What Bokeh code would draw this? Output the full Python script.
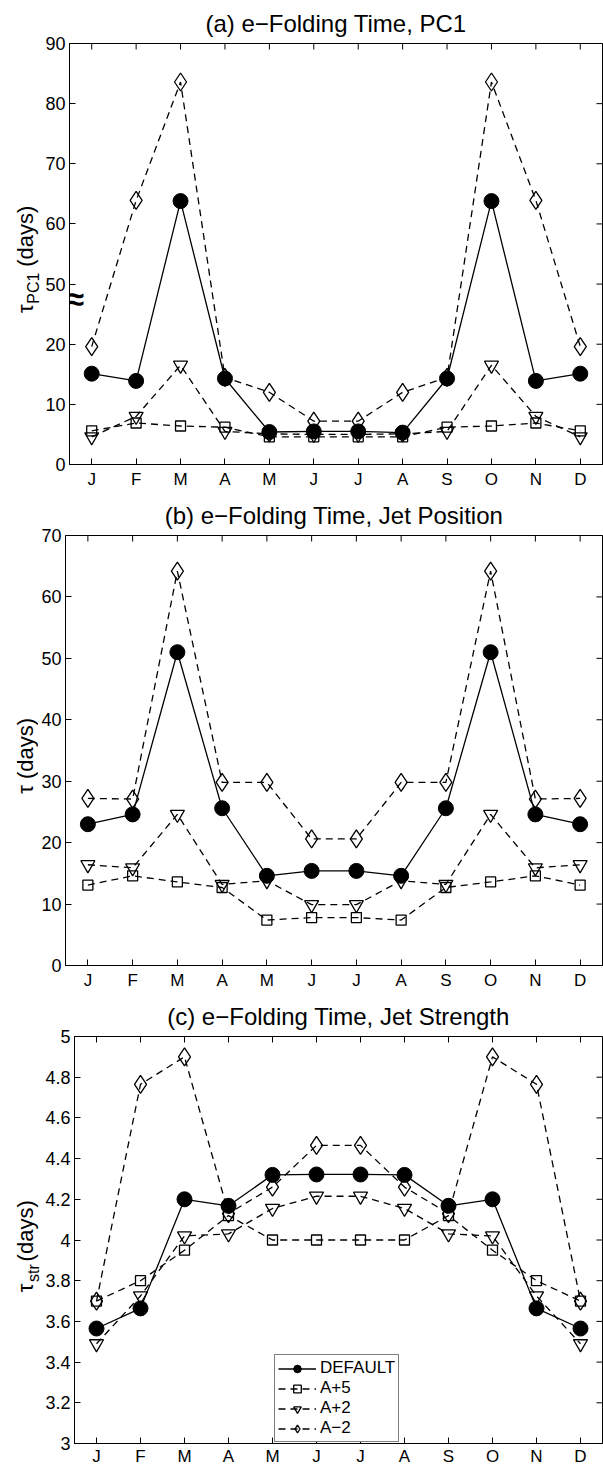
import math
from bokeh.plotting import figure
from bokeh.models import FixedTicker, Legend, LegendItem, Range1d
from bokeh.core.properties import value
from bokeh.layouts import column, row
from bokeh.embed import file_html
from bokeh.resources import INLINE

months = ["J", "F", "M", "A", "M", "J", "J", "A", "S", "O", "N", "D"]
month_idx = list(range(1, 13))
series_names = ["DEFAULT", "A+5", "A+2", "A\u22122"]

# (a) PC1 e-folding time (days)
pc1_default = [15.1, 13.9, 63.8, 14.3, 5.4, 5.5, 5.5, 5.3, 14.3, 63.8, 13.9, 15.1]
pc1_ap5 = [5.6, 6.9, 6.4, 6.2, 4.6, 4.6, 4.6, 4.6, 6.2, 6.4, 6.9, 5.6]
pc1_ap2 = [4.6, 8.0, 16.5, 5.5, 5.1, 5.0, 5.0, 5.1, 5.5, 16.5, 8.0, 4.6]
pc1_am2 = [19.6, 63.9, 83.6, 14.5, 12.0, 7.2, 7.2, 12.0, 14.5, 83.6, 63.9, 19.6]
pc1_tick_values = [0, 10, 20, 50, 60, 70, 80, 90]
pc1_break_low = 20      # the axis is broken between 20 and 50
pc1_break_gap = 20      # values above the break are drawn 20 lower

# (b) jet position e-folding time (days)
pos_default = [23.0, 24.6, 51.0, 25.6, 14.6, 15.4, 15.4, 14.6, 25.6, 51.0, 24.6, 23.0]
pos_ap5 = [13.1, 14.6, 13.6, 12.7, 7.4, 7.8, 7.8, 7.4, 12.7, 13.6, 14.6, 13.1]
pos_ap2 = [16.4, 15.9, 24.6, 13.2, 13.8, 9.9, 9.9, 13.8, 13.2, 24.6, 15.9, 16.4]
pos_am2 = [27.2, 27.1, 64.2, 29.8, 29.8, 20.6, 20.6, 29.8, 29.8, 64.2, 27.1, 27.2]
pos_tick_values = [0, 10, 20, 30, 40, 50, 60, 70]

# (c) jet strength e-folding time (days)
str_default = [3.565, 3.664, 4.20, 4.168, 4.32, 4.322, 4.322, 4.32, 4.168, 4.20, 3.664, 3.565]
str_ap5 = [3.70, 3.80, 3.95, 4.12, 4.00, 4.00, 4.00, 4.00, 4.12, 3.95, 3.80, 3.70]
str_ap2 = [3.49, 3.725, 4.02, 4.03, 4.155, 4.215, 4.215, 4.155, 4.03, 4.02, 3.725, 3.49]
str_am2 = [3.70, 4.765, 4.90, 4.13, 4.26, 4.465, 4.465, 4.26, 4.13, 4.90, 4.765, 3.70]
str_tick_values = [3.0, 3.2, 3.4, 3.6, 3.8, 4.0, 4.2, 4.4, 4.6, 4.8, 5.0]
str_tick_labels = ["3", "3.2", "3.4", "3.6", "3.8", "4", "4.2", "4.4", "4.6", "4.8", "5"]

FONT = "Liberation Sans"
TOTAL_W = 603


def brk(v):
    return v if v <= pc1_break_low else v - pc1_break_gap


def make_fig(title, width, height, border_left, border_top, border_bottom, y0, y1,
             ytick_pos, ytick_labels, xstandoff=5):
    p = figure(width=width, height=height, output_backend="svg", toolbar_location=None,
               x_range=Range1d(0.5, 12.5), y_range=Range1d(y0, y1),
               min_border_left=border_left, min_border_right=1,
               min_border_top=border_top, min_border_bottom=border_bottom)
    p.title.text = title
    p.title.align = "center"
    p.title.text_font = FONT
    p.title.text_font_size = "24px"
    p.title.text_font_style = "normal"
    p.title.text_color = "black"
    p.title.standoff = 14
    p.grid.visible = False
    p.outline_line_color = "black"
    p.outline_line_width = 1
    p.background_fill_color = "white"
    p.border_fill_color = "white"

    xax = p.xaxis[0]
    yax = p.yaxis[0]
    xax.ticker = FixedTicker(ticks=month_idx)
    xax.major_label_overrides = {i: m for i, m in zip(month_idx, months)}
    yax.ticker = FixedTicker(ticks=ytick_pos)
    yax.major_label_overrides = {t: l for t, l in zip(ytick_pos, ytick_labels)}
    for ax in (xax, yax):
        ax.major_tick_in = 6
        ax.major_tick_out = 0
        ax.minor_tick_in = 0
        ax.minor_tick_out = 0
        ax.axis_line_color = "black"
        ax.major_tick_line_color = "black"
        ax.major_label_text_font = FONT
        ax.major_label_text_color = "black"
        ax.axis_label = None
    yax.major_label_text_font_size = "18px"
    yax.major_label_standoff = 4
    xax.major_label_text_font_size = "17px"
    xax.major_label_standoff = xstandoff

    # mirrored inward ticks on the top and right edges (the outer half is clipped)
    p.scatter(month_idx, [y1] * len(month_idx), marker="dash", angle=math.pi / 2,
              size=12, line_color="black", line_width=1)
    p.scatter([12.5] * len(ytick_pos), ytick_pos, marker="dash",
              size=12, line_color="black", line_width=1)
    return p


def draw(p, ys):
    d, a5, a2, m2 = ys
    rs = []
    l = p.line(month_idx, d, line_color="black", line_width=1.3)
    s = p.scatter(month_idx, d, marker="circle", size=15, fill_color="black", line_color="black")
    rs.append([l, s])
    l = p.line(month_idx, a5, line_color="black", line_width=1.3, line_dash="7 5")
    s = p.scatter(month_idx, a5, marker="square", size=10, fill_alpha=0, line_color="black", line_width=1.3)
    rs.append([l, s])
    l = p.line(month_idx, a2, line_color="black", line_width=1.3, line_dash="7 5")
    s = p.scatter(month_idx, a2, marker="inverted_triangle", size=14, fill_alpha=0, line_color="black", line_width=1.3)
    rs.append([l, s])
    l = p.line(month_idx, m2, line_color="black", line_width=1.3, line_dash="7 5")
    s = p.scatter(month_idx, m2, marker="diamond", size=18, fill_alpha=0, line_color="black", line_width=1.3)
    rs.append([l, s])
    return rs


def label_fig(width, height, parts):
    """A narrow strip left of a panel holding its rotated y-axis title.
    parts: (text, x, y, font_size) in pixel coordinates of the strip; x is the
    bottom of the rotated text's box, y where the text starts."""
    f = figure(width=width, height=height, output_backend="svg", toolbar_location=None,
               x_range=Range1d(0, width), y_range=Range1d(0, height),
               x_axis_type=None, y_axis_type=None,
               min_border_left=0, min_border_right=0, min_border_top=0, min_border_bottom=0)
    f.grid.visible = False
    f.outline_line_color = None
    f.background_fill_color = "white"
    f.border_fill_color = "white"
    for text, x, y, size in parts:
        f.text(x=[x], y=[y], text=[text], angle=math.pi / 2, text_align="left",
               text_baseline="bottom", text_font=value(FONT),
               text_font_size=value(size), text_color="black")
    return f


# ---- panel (a)
HA, LWA = 492, 42
pa = make_fig("(a) e\u2212Folding Time, PC1", TOTAL_W - LWA, HA, 25, 42, 28, 0, brk(90),
              [brk(v) for v in pc1_tick_values], [str(v) for v in pc1_tick_values])
draw(pa, [[brk(v) for v in s] for s in (pc1_default, pc1_ap5, pc1_ap2, pc1_am2)])
pa.text(x=[0.5], y=[27.5], text=["\u2248"], text_align="left", text_baseline="middle",
        x_offset=-3, text_font=value(FONT), text_font_size=value("32px"),
        text_font_style="bold", text_color="black")
la = label_fig(LWA, HA, [("\u03c4", 37.5, 177, "22px"), ("PC1", 41.5, 188, "16px"),
                          ("(days)", 37.5, 231, "22px")])

# ---- panel (b)
HB, LWB = 501, 38
pb = make_fig("(b) e\u2212Folding Time, Jet Position", TOTAL_W - LWB, HB, 24, 43, 28, 0, 70,
              pos_tick_values, [str(v) for v in pos_tick_values])
draw(pb, (pos_default, pos_ap5, pos_ap2, pos_am2))
lb = label_fig(LWB, HB, [("\u03c4 (days)", 37.5, 200, "22px")])

# ---- panel (c)
HC, LWC = 476, 42
pc = make_fig("(c) e\u2212Folding Time, Jet Strength", TOTAL_W - LWC, HC, 30, 43, 26, 3, 5,
              str_tick_values, str_tick_labels, xstandoff=3)
rc = draw(pc, (str_default, str_ap5, str_ap2, str_am2))
lc = label_fig(LWC, HC, [("\u03c4", 37.5, 177, "22px"), ("str", 41.5, 189, "16px"),
                          ("(days)", 37.5, 213, "22px")])

legend = Legend(items=[LegendItem(label=n, renderers=r) for n, r in zip(series_names, rc)],
                location=(200, 1))
legend.label_text_font = FONT
legend.label_text_font_size = "17px"
legend.label_text_color = "black"
legend.glyph_width = 38
legend.glyph_height = 19
legend.label_height = 19
legend.label_standoff = 4
legend.spacing = 0
legend.padding = 3
legend.margin = 0
legend.border_line_color = "black"
legend.border_line_width = 1
legend.background_fill_alpha = 1
pc.add_layout(legend)

layout = column(row(la, pa, spacing=0), row(lb, pb, spacing=0), row(lc, pc, spacing=0), spacing=0)
open("out.html", "w").write(file_html(layout, INLINE))
